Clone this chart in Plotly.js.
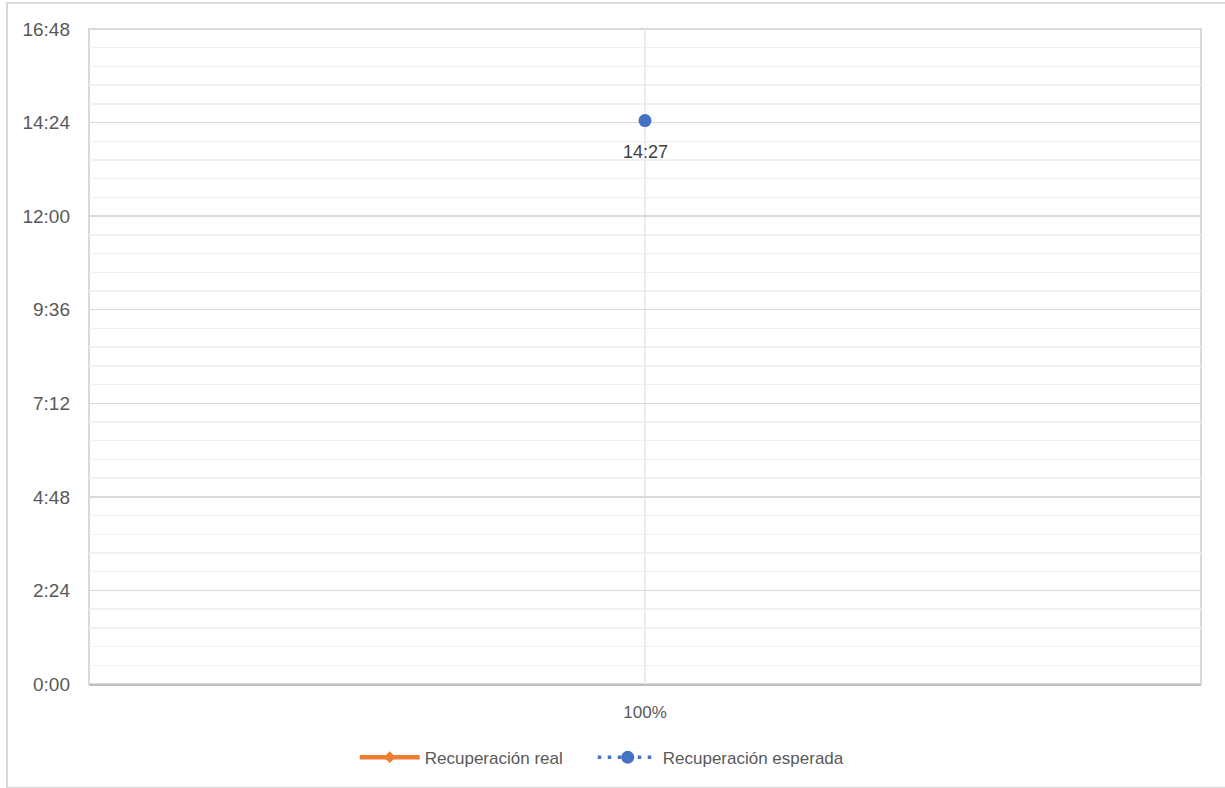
<!DOCTYPE html>
<html>
<head>
<meta charset="utf-8">
<script src="https://cdn.plot.ly/plotly-3.0.1.min.js"></script>
<style>
  html, body { margin: 0; padding: 0; background: #ffffff; }
  #chart { position: absolute; left: 0; top: 0; width: 1225px; height: 788px; }
  #frame { position: absolute; left: 6px; top: 2px; width: 1240px; height: 783px;
           border: 2px solid #d9d9d9; pointer-events: none; }
</style>
</head>
<body>
<div id="chart"></div>
<div id="frame"></div>
<script>
// Categories and series (values in minutes)
const categories = ['100%'];
const realRecovery = [null];
const expectedRecovery = [867];          // 14:27
const seriesNames = ['Recuperación real', 'Recuperación esperada'];
// Y-axis tick values (minutes): 0:00 .. 16:48
const yTickValues = [0, 144, 288, 432, 576, 720, 864, 1008];

function fmt(mins) {
  const h = Math.floor(mins / 60);
  const m = Math.round(mins - h * 60);
  return h + ':' + (m < 10 ? '0' + m : m);
}

const font = 'Liberation Sans, Arial, sans-serif';

const traces = [
  {
    x: categories, y: realRecovery, name: seriesNames[0],
    type: 'scatter', mode: 'lines+markers',
    line: { color: '#ed7d31', width: 4.5 },
    marker: { symbol: 'diamond', size: 9, color: '#ed7d31' },
    showlegend: true, legend: 'legend'
  },
  {
    x: categories, y: expectedRecovery, name: seriesNames[1],
    type: 'scatter', mode: 'lines+markers',
    line: { color: '#4472c4', width: 3.5, dash: '3.5px,6.5px' },
    marker: { symbol: 'circle', size: 13, color: '#4472c4' },
    showlegend: true, legend: 'legend2'
  }
];

const annotations = expectedRecovery.map((v, i) => ({
  x: categories[i], y: v, xref: 'x', yref: 'y',
  text: fmt(v), showarrow: false, yanchor: 'middle', yshift: -31,
  font: { family: font, size: 18, color: '#404040' }
}));

const legendStyle = {
  orientation: 'h', xanchor: 'left', y: -0.085, yanchor: 'top',
  font: { family: font, size: 17, color: '#595959' },
  itemwidth: 60, bgcolor: 'rgba(0,0,0,0)'
};

const layout = {
  width: 1225, height: 788,
  margin: { l: 89, r: 24, t: 29, b: 104 },
  paper_bgcolor: '#ffffff', plot_bgcolor: '#ffffff',
  font: { family: font, color: '#595959' },
  showlegend: true,
  legend: Object.assign({}, legendStyle, { x: 0.239 }),
  legend2: Object.assign({}, legendStyle, { x: 0.453 }),
  annotations: annotations,
  xaxis: {
    type: 'category', range: [-0.5, 0.5],
    showgrid: true, gridcolor: '#ececec', gridwidth: 1.5,
    showline: true, linecolor: '#bfbfbf', linewidth: 2,
    ticks: '', ticklabelstandoff: 12,
    tickfont: { family: font, size: 17, color: '#595959' },
    zeroline: false, fixedrange: true
  },
  yaxis: {
    range: [0, 1008],
    tickmode: 'array', tickvals: yTickValues, ticktext: yTickValues.map(fmt),
    showgrid: true, gridcolor: '#d9d9d9', gridwidth: 1.5,
    minor: { dtick: 28.8, tick0: 0, showgrid: true, gridcolor: '#f0f0f0', gridwidth: 1.5, ticks: '' },
    showline: false, zeroline: false, ticks: '', ticklabelstandoff: 18,
    tickfont: { family: font, size: 19, color: '#595959' },
    fixedrange: true
  },
  shapes: [
    { type: 'rect', xref: 'paper', yref: 'paper', x0: 0, x1: 1, y0: 0, y1: 1,
      line: { color: '#d9d9d9', width: 2 }, layer: 'below' }
  ]
};

Plotly.newPlot('chart', traces, layout, { displayModeBar: false, staticPlot: true });
</script>
</body>
</html>
